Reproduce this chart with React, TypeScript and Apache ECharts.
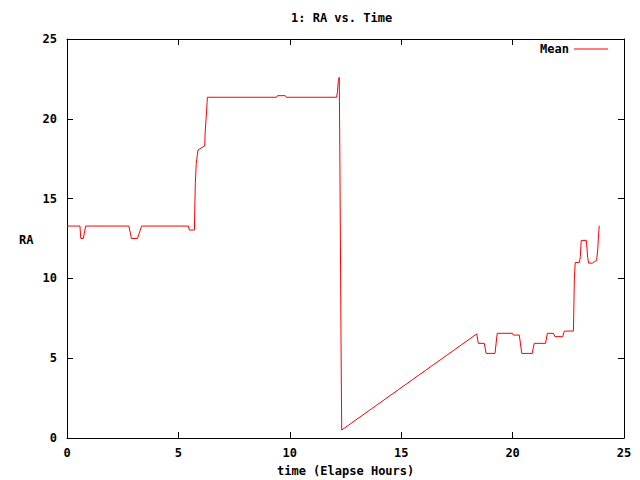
import React, { useEffect, useRef } from "react";
import * as echarts from "echarts";

const titleText = "1: RA vs. Time";
const xAxisTitle = "time (Elapse Hours)";
const yAxisTitle = "RA";
const seriesName = "Mean";

const times = [
  0, 0.58, 0.62, 0.73, 0.84, 2.78, 2.89, 3.16, 3.35, 5.45, 5.49, 5.72, 5.73, 5.76, 5.8, 5.88,
  6.18, 6.2, 6.27, 6.3, 9.41, 9.45, 9.8, 9.84, 12.1, 12.14, 12.18, 12.22, 12.25, 12.3, 12.33,
  18.39, 18.46, 18.73, 18.81, 19.21, 19.31, 20.0, 20.03, 20.3, 20.41, 20.88, 20.97, 21.48,
  21.56, 21.83, 21.9, 22.25, 22.32, 22.73, 22.77, 22.81, 23.0, 23.04, 23.08, 23.31, 23.37,
  23.41, 23.58, 23.77, 23.82, 23.86, 23.89,
];
const raMean = [
  13.28, 13.28, 12.5, 12.5, 13.28, 13.28, 12.5, 12.5, 13.28, 13.28, 13.03, 13.03, 13.97, 15.96,
  17.2, 18.05, 18.3, 19.1, 20.6, 21.35, 21.35, 21.45, 21.45, 21.35, 21.35, 21.7, 22.4, 22.6,
  17.0, 5.93, 0.5, 6.52, 5.93, 5.93, 5.3, 5.3, 6.56, 6.56, 6.45, 6.45, 5.3, 5.3, 5.93, 5.93,
  6.56, 6.56, 6.35, 6.35, 6.7, 6.7, 9.9, 11.0, 11.0, 11.36, 12.38, 12.38, 11.32, 10.96, 10.96,
  11.13, 11.78, 12.82, 13.3,
];

const FONT = "DejaVu Sans Mono";

export default function App() {
  const ref = useRef<HTMLDivElement>(null);
  useEffect(() => {
    if (!ref.current) return;
    const chart = echarts.init(ref.current, undefined, { renderer: "svg" });
    const labelStyle = { fontFamily: FONT, fontWeight: "bold" as const, fontSize: 12, color: "#000" };
    const baseAxis = {
      type: "value" as const,
      min: 0,
      max: 25,
      interval: 5,
      splitLine: { show: false },
      axisLine: { show: true, onZero: false, lineStyle: { color: "#000", width: 1 } },
      axisTick: { show: true, inside: true, length: 6, lineStyle: { color: "#000" } },
    };
    chart.setOption({
      animation: false,
      backgroundColor: "#fff",
      grid: { left: 67, right: 16, top: 39, bottom: 42, containLabel: false },
      xAxis: [
        { ...baseAxis, position: "bottom", axisLabel: { ...labelStyle, margin: 9 } },
        { ...baseAxis, position: "top", axisLabel: { show: false } },
      ],
      yAxis: [
        { ...baseAxis, position: "left", axisLabel: { ...labelStyle, margin: 10 } },
        { ...baseAxis, position: "right", axisLabel: { show: false } },
      ],
      legend: {
        right: 27,
        top: 38,
        align: "right",
        icon: "rect",
        itemWidth: 34,
        itemHeight: 1,
        itemGap: 6,
        textStyle: { ...labelStyle, padding: [0, 0, 0, 0] },
        data: [seriesName],
      },
      graphic: [
        {
          type: "text",
          left: 342 - 51,
          top: 12,
          style: { text: titleText, font: `bold 12px "${FONT}"`, fill: "#000" },
        },
        {
          type: "text",
          left: 343 - 66,
          top: 465,
          style: { text: xAxisTitle, font: `bold 12px "${FONT}"`, fill: "#000" },
        },
        {
          type: "text",
          left: 19,
          top: 234,
          style: { text: yAxisTitle, font: `bold 12px "${FONT}"`, fill: "#000" },
        },
      ],
      series: [
        {
          name: seriesName,
          type: "line",
          xAxisIndex: 0,
          yAxisIndex: 0,
          showSymbol: false,
          symbol: "none",
          lineStyle: { color: "#ff0000", width: 1 },
          itemStyle: { color: "#ff0000" },
          data: times.map((t, i) => [t, raMean[i]]),
        },
      ],
    });
    return () => chart.dispose();
  }, []);
  return <div ref={ref} style={{ width: 640, height: 480, position: "fixed", left: 0, top: 0 }} />;
}
